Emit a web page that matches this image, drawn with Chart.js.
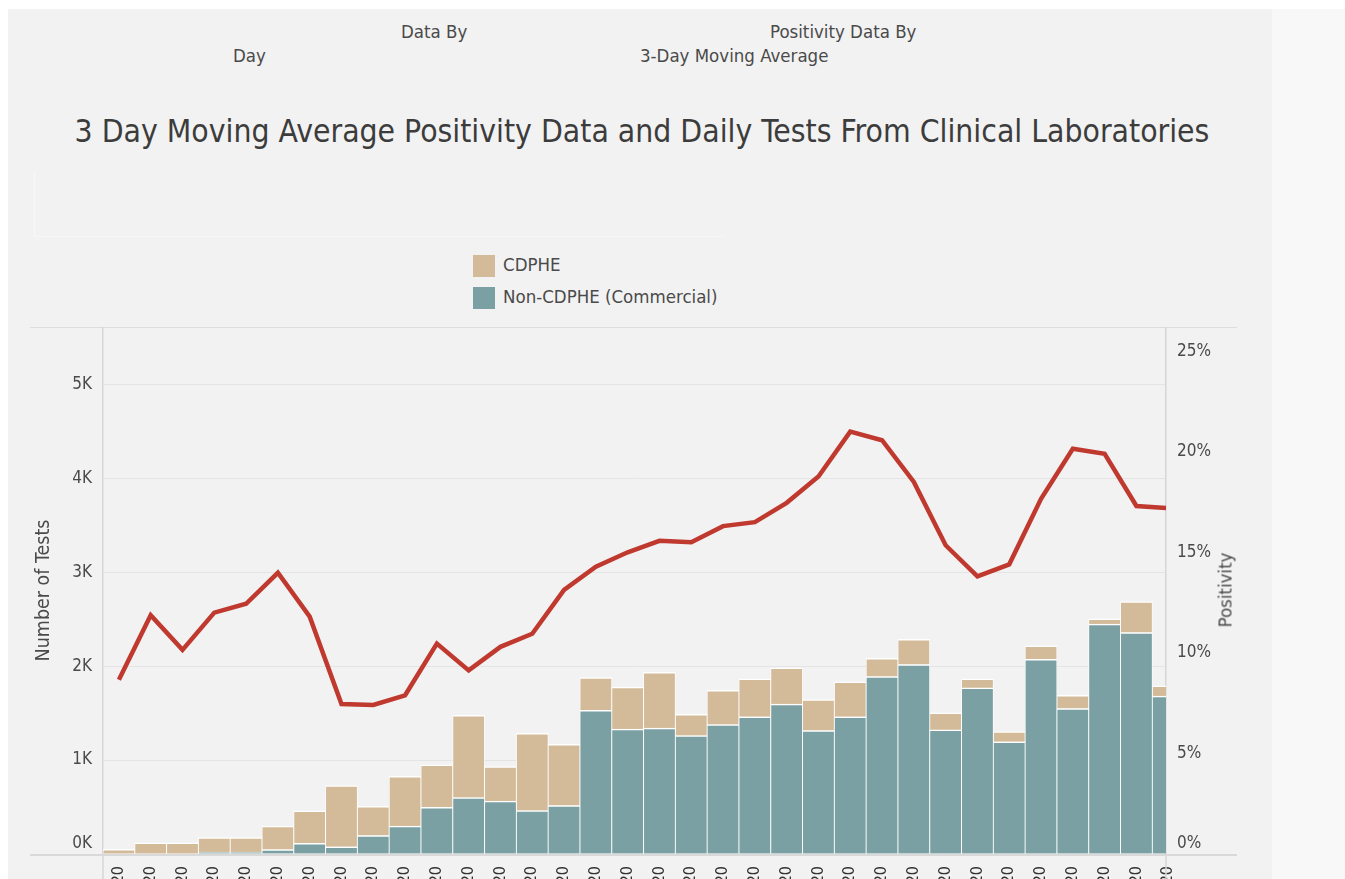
<!DOCTYPE html>
<html lang="en">
<head>
<meta charset="UTF-8">
<title>3 Day Moving Average Positivity</title>
<script src="https://cdn.jsdelivr.net/npm/chart.js"></script>
<style>
  body { margin: 0; background: #ffffff; font-family: "DejaVu Sans Condensed", "DejaVu Sans", sans-serif; font-stretch: condensed; color: #4a4a4a; }
  .painel { position: absolute; left: 8px; top: 9px; width: 1264px; height: 870px; background: #f2f2f2; }
  .faixa { position: absolute; left: 1272px; top: 9px; width: 73px; height: 870px; background: #f8f8f8; }
  .txt { position: absolute; font-size: 18.5px; white-space: nowrap; }
  #titulo { position: absolute; left: 0; width: 1284px; top: 113px; text-align: center; font-size: 31.6px; color: #3c3c3c; }
  .caixa { position: absolute; left: 34px; top: 172px; width: 690px; height: 64px; border-left: 1px solid #f8f8f8; border-bottom: 1px solid #f6f6f6; }
  .legenda { position: absolute; left: 473px; font-size: 18.5px; }
  .legenda span { position: absolute; left: 0; width: 22px; height: 22px; }
  .legenda b { position: absolute; left: 30px; top: -1px; font-weight: normal; white-space: nowrap; }
  .grafico { position: absolute; left: 30px; top: 327px; width: 1207px; height: 552px; }
  #tituloDireita { position: absolute; left: 1225px; top: 590px; transform: translate(-50%, -50%) rotate(-90deg); font-size: 18.5px; white-space: nowrap; }
</style>
</head>
<body>
  <div class="painel"></div>
  <div class="faixa"></div>

  <div class="txt" style="left:401px; top:21px;">Data By</div>
  <div class="txt" style="left:233px; top:45px;">Day</div>
  <div class="txt" style="left:770px; top:21px;">Positivity Data By</div>
  <div class="txt" style="left:640px; top:45px;">3-Day Moving Average</div>

  <div id="titulo">3 Day Moving Average Positivity Data and Daily Tests From Clinical Laboratories</div>
  <div class="caixa"></div>

  <div class="legenda" style="top:255px;"><span style="background:#d3bb99"></span><b>CDPHE</b></div>
  <div class="legenda" style="top:287px;"><span style="background:#7ba0a3"></span><b>Non-CDPHE (Commercial)</b></div>

  <div class="grafico">
    <canvas id="graficoTestes"></canvas>
  </div>
  <div id="tituloDireita">Positivity</div>

<script>
// rotulos do eixo x (so aparece o fim da data)
var rotulosDias = ['20','20','20','20','20','20','20','20','20','20','20','20','20','20','20','20','20',
                   '20','20','20','20','20','20','20','20','20','20','20','20','20','20','20','20','20']

// testes por dia
var testesCdphe = [50, 120, 120, 155, 155, 249, 347, 652, 311, 531, 451, 876, 366, 824, 652, 349, 447,
                   593, 226, 366, 403, 385, 330, 373, 194, 268, 183, 96, 109, 143, 139, 57, 330, 109]
var testesComerciais = [0, 0, 0, 20, 20, 47, 113, 76, 197, 296, 497, 600, 564, 461, 516, 1530, 1330,
                        1340, 1260, 1377, 1461, 1596, 1314, 1461, 1889, 2017, 1321, 1768, 1194, 2072, 1549, 2447, 2358, 1681]

// positividade media movel 3 dias (%)
var positividade = [8.66, 11.87, 10.15, 12.0, 12.44, 13.98, 11.8, 7.46, 7.41, 7.89, 10.46, 9.13, 10.3, 10.95, 13.13, 14.28, 15.0,
                    15.57, 15.5, 16.3, 16.5, 17.46, 18.77, 21.0, 20.57, 18.5, 15.35, 13.8, 14.4, 17.66, 20.15, 19.9, 17.3, 17.2]

var ticksTestes = [0, 1000, 2000, 3000, 4000, 5000]
var ticksPositividade = [0, 5, 10, 15, 20, 25]

var fonte = "'DejaVu Sans Condensed', 'DejaVu Sans', sans-serif"

function pontos(lista) {
  var saida = []
  for (var i = 0; i < lista.length; i++) {
    saida.push({ x: i, y: lista[i] })
  }
  return saida
}

// sem folga extra em volta dos eixos
function semFolga(eixo) {
  eixo.paddingTop = 0
  eixo.paddingBottom = 0
  eixo.paddingLeft = 0
  eixo.paddingRight = 0
}

// o rotulo do zero fica um pouco acima da base (linha vazia embaixo)
function rotuloZero(texto, valor) {
  if (valor === 0) return [texto, '']
  return texto
}

// linhas da moldura (topo, base e eixos ate o fim da tela)
var moldura = {
  id: 'moldura',
  beforeDatasetsDraw: function (chart) {
    var ctx = chart.ctx
    var area = chart.chartArea
    ctx.save()
    ctx.strokeStyle = '#d6d6d6'
    ctx.lineWidth = 1.5
    ctx.beginPath()
    ctx.moveTo(0, area.top)
    ctx.lineTo(chart.width, area.top)
    ctx.moveTo(area.left, area.bottom)
    ctx.lineTo(area.left, chart.height)
    ctx.moveTo(area.right, area.bottom)
    ctx.lineTo(area.right, chart.height)
    ctx.stroke()
    ctx.restore()
  },
  afterDatasetsDraw: function (chart) {
    var ctx = chart.ctx
    var area = chart.chartArea
    ctx.save()
    ctx.strokeStyle = '#d9d9d9'
    ctx.lineWidth = 2
    ctx.beginPath()
    ctx.moveTo(0, area.bottom + 1)
    ctx.lineTo(chart.width, area.bottom + 1)
    ctx.stroke()
    ctx.restore()
  }
}

Chart.defaults.font.family = fonte
Chart.defaults.color = '#4a4a4a'

new Chart(document.getElementById('graficoTestes'), {
  type: 'bar',
  data: {
    datasets: [{
      type: 'line',
      label: 'Positivity',
      data: pontos(positividade),
      yAxisID: 'y1',
      borderColor: '#c0392f',
      borderWidth: 4.5,
      pointRadius: 0,
      tension: 0,
      order: 0
    }, {
      label: 'Non-CDPHE (Commercial)',
      data: pontos(testesComerciais),
      yAxisID: 'y',
      backgroundColor: '#7ba0a3',
      borderColor: '#ffffff',
      borderWidth: { top: 1.5, left: 0.8, right: 0.8, bottom: 0 },
      borderSkipped: false,
      barPercentage: 1,
      categoryPercentage: 1,
      order: 1
    }, {
      label: 'CDPHE',
      data: pontos(testesCdphe),
      yAxisID: 'y',
      backgroundColor: '#d3bb99',
      borderColor: '#ffffff',
      borderWidth: { top: 1.5, left: 0.8, right: 0.8, bottom: 0 },
      borderSkipped: false,
      barPercentage: 1,
      categoryPercentage: 1,
      order: 1
    }]
  },
  options: {
    responsive: true,
    maintainAspectRatio: false,
    animation: false,
    layout: { padding: 0 },
    plugins: {
      legend: { display: false },
      tooltip: { enabled: false }
    },
    scales: {
      x: {
        type: 'linear',
        stacked: true,
        offset: false,
        min: -0.5,
        max: 32.93,
        grid: { display: false, offset: false },
        border: { display: false },
        afterBuildTicks: function (eixo) {
          eixo.ticks = rotulosDias.map(function (r, i) { return { value: i } })
        },
        ticks: {
          autoSkip: false,
          minRotation: 90,
          maxRotation: 90,
          padding: 4,
          color: '#333333',
          font: { size: 16 },
          callback: function (valor) { return rotulosDias[valor] }
        },
        afterFit: function (eixo) { eixo.height = 25; semFolga(eixo) }
      },
      y: {
        position: 'left',
        stacked: true,
        min: 0,
        max: 5610,
        grid: { color: '#e4e4e4', drawTicks: false },
        border: { display: true, color: '#d6d6d6', width: 1.5 },
        afterBuildTicks: function (eixo) {
          eixo.ticks = ticksTestes.map(function (v) { return { value: v } })
        },
        ticks: {
          padding: 11,
          font: { size: 17 },
          callback: function (valor) { return rotuloZero((valor / 1000) + 'K', valor) }
        },
        title: {
          display: true,
          text: 'Number of Tests',
          font: { size: 19.5 },
          padding: { top: 2, bottom: 0 }
        },
        afterFit: function (eixo) { eixo.width = 73; semFolga(eixo) }
      },
      y1: {
        position: 'right',
        min: 0,
        max: 26.2,
        grid: { display: false, drawTicks: false },
        border: { display: true, color: '#d6d6d6', width: 1.5 },
        afterBuildTicks: function (eixo) {
          eixo.ticks = ticksPositividade.map(function (v) { return { value: v } })
        },
        ticks: {
          padding: 11,
          font: { size: 17 },
          callback: function (valor) { return rotuloZero(valor + '%', valor) }
        },
        afterFit: function (eixo) { eixo.width = 71; semFolga(eixo) }
      }
    }
  },
  plugins: [moldura]
})
</script>
</body>
</html>
